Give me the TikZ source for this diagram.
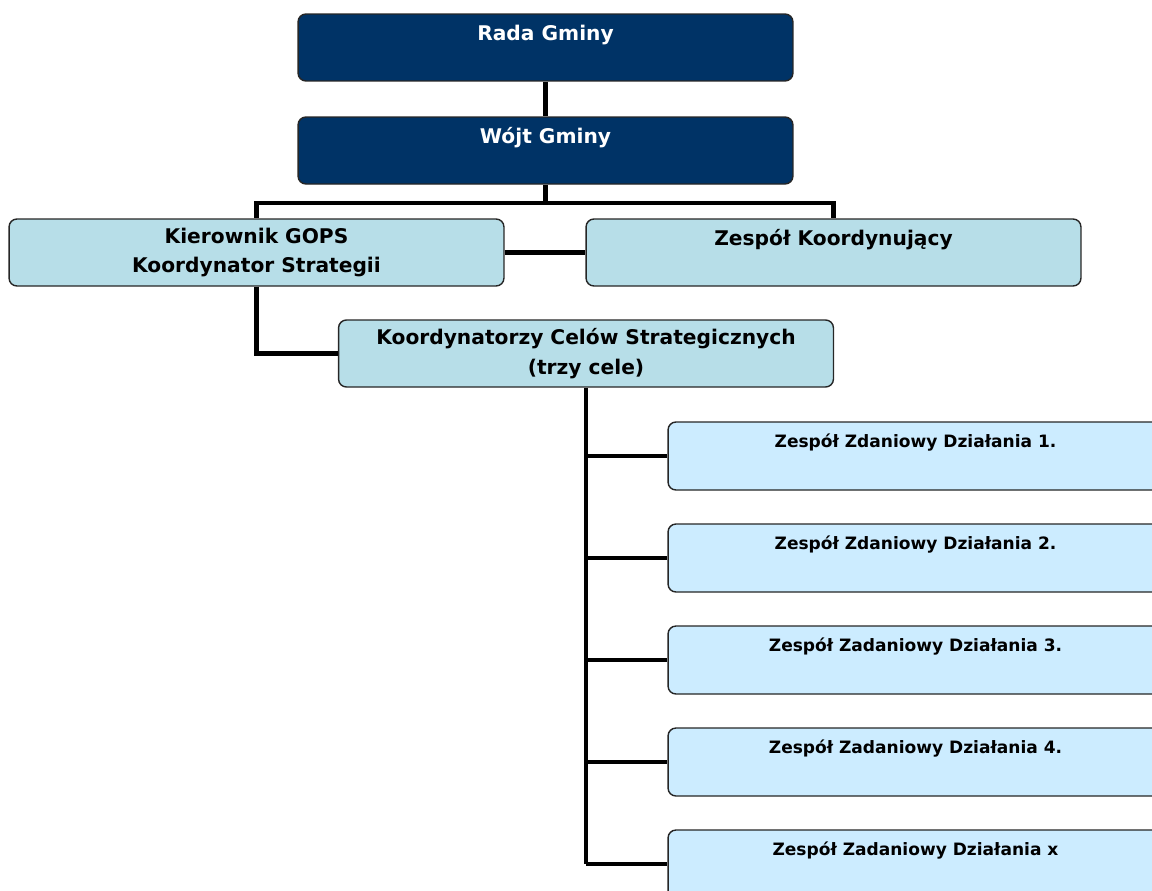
\documentclass[tikz,border=0pt]{standalone}
\usepackage{fontspec}
\setmainfont{DejaVu Sans}
\definecolor{navy}{HTML}{003366}
\definecolor{teal}{HTML}{B7DEE8}
\definecolor{skyblue}{HTML}{CCECFF}
\begin{document}
\begin{tikzpicture}[x=0.02cm, y=-0.02cm,
        box/.style={draw=black!85, line width=0.8pt, rounded corners=4.5pt,
            minimum width=9.9cm, minimum height=1.34cm, align=center,
            font=\fontsize{11.5}{17}\selectfont\bfseries},
        headbox/.style={box, fill=navy, text=white},
        unitbox/.style={box, fill=teal},
        taskbox/.style={box, fill=skyblue, minimum height=1.36cm,
            font=\fontsize{9.7}{17.5}\selectfont\bfseries},
        link/.style={line width=2.8pt, black}]
        % Frame
        \useasboundingbox (0,0) rectangle (1152,890);
        \clip (0,0) rectangle (1152,890);

        % Top
        \node[headbox] (rada) at (545.5,47.5) {Rada Gminy\\~};
        \node[headbox] (wojt) at (545.5,150.5) {Wójt Gminy\\~};

        % Middle
        \node[unitbox] (kier) at (256.5,252.5) {Kierownik GOPS\\Koordynator Strategii};
        \node[unitbox] (zesp) at (833.5,252.5) {Zespół Koordynujący\\~};
        \node[unitbox] (koord) at (586,353.5) {Koordynatorzy Celów Strategicznych\\(trzy cele)};

        % Task teams
        \node[taskbox] (zad1) at (915.5,456) {Zespół Zdaniowy Działania 1.\\~};
        \node[taskbox] (zad2) at (915.5,558) {Zespół Zdaniowy Działania 2.\\~};
        \node[taskbox] (zad3) at (915.5,660) {Zespół Zadaniowy Działania 3.\\~};
        \node[taskbox] (zad4) at (915.5,762) {Zespół Zadaniowy Działania 4.\\~};
        \node[taskbox] (zad5) at (915.5,864) {Zespół Zadaniowy Działania x\\~};

        % Connectors
        \draw[link] (rada) -- (wojt);
        \coordinate (fork) at (545.5,203);
        \draw[link] (wojt) -- (fork);
        \draw[link] (fork) -| (kier.north);
        \draw[link] (fork) -| (zesp.north);
        \draw[link] (kier) -- (zesp);
        \draw[link] (kier.south) |- (koord.west);

        % Trunk
        \coordinate (trunk) at (koord.south |- zad5.west);
        \draw[link] (koord.south) -- (trunk);
        \foreach \i in {1,...,5}
            \draw[link] (koord.south |- zad\i.west) -- (zad\i.west);
    \end{tikzpicture}
\end{document}
